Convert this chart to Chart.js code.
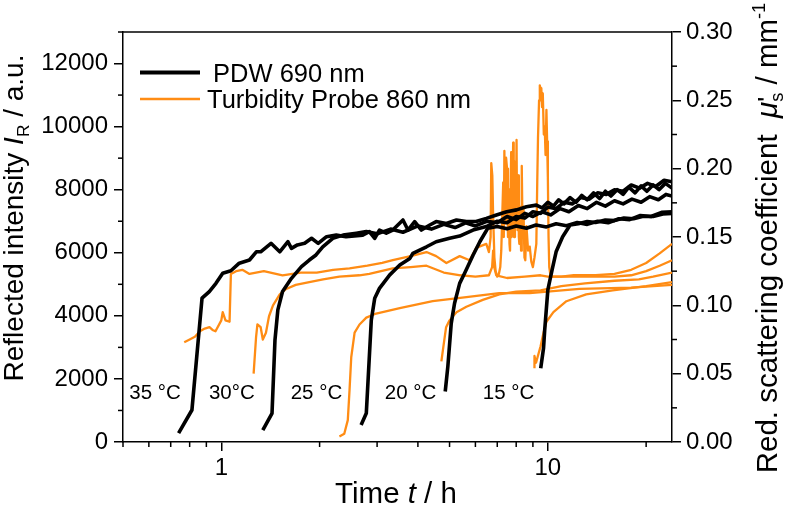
<!DOCTYPE html>
<html>
<head>
<meta charset="utf-8">
<script src="https://cdn.jsdelivr.net/npm/chart.js@4/dist/chart.umd.min.js"></script>
<style>html,body{margin:0;padding:0;background:#fff}canvas{display:block}</style>
</head>
<body>
<canvas id="c" width="788" height="515"></canvas>
<script>
// ---------- tick labels ----------
const xMajorTicks = [1, 10];
const xMinorTicks = [0.5, 0.6, 0.7, 0.8, 0.9, 2, 3, 4, 5, 6, 7, 8, 9, 20];
const leftTicks = [0, 2000, 4000, 6000, 8000, 10000, 12000];
const leftMinorTicks = [1000, 3000, 5000, 7000, 9000, 11000, 13000];
const rightTicks = [0, 0.05, 0.10, 0.15, 0.20, 0.25, 0.30];
const rightMinorTicks = [0.025, 0.075, 0.125, 0.175, 0.225, 0.275];

// ---------- PDW 690 nm : reflected intensity (a.u.) ----------
const pdw35T = [0.74,0.813,0.873,0.919,0.963,1.01,1.07,1.135,1.22,1.28,1.32,1.42,1.51,1.60,1.64,1.71,1.80,1.89,1.98,2.10,2.25,2.41,2.71,2.84,2.95,3.05,3.20,3.35,3.60,3.73,3.91,4.10,4.35,4.55,4.89,5.25,5.63,6.03,6.48,6.96,7.48,8.02,8.6,9.22,9.6,10,10.4,10.8,11.2,11.7,12.2,12.7,13.2,13.8,14.4,15,15.6,16.3,17,17.7,18.5,19.3,20.1,21,21.9,22.9,24];
const pdw35I = [280,1015,4560,4770,5030,5350,5430,5670,5770,6030,6030,6300,6030,6350,6140,6250,6300,6460,6300,6510,6560,6510,6560,6670,6460,6720,6620,6720,7040,6720,6990,6720,6880,6990,6930,7040,6990,6990,7090,7200,7300,7360,7460,7510,7420,7600,7480,7680,7550,7750,7600,7820,7680,7900,7720,7950,7800,8000,7850,8080,7900,8120,7950,8150,8000,8200,8050];

const pdw30T = [1.34,1.43,1.46,1.49,1.54,1.64,1.76,1.86,1.95,2.045,2.195,2.36,2.59,2.78,3.0,3.3,3.6,4.0,4.4,4.8,5.2,5.6,6.0,6.5,7.0,7.5,8.0,8.5,9.0,9.6,10.2,10.9,11.6,12.4,13.2,14.1,15,16,17,18.1,19.3,20.5,21.8,23,24];
const pdw30I = [380,910,3230,4190,4770,5190,5560,5770,5930,6190,6460,6560,6620,6670,6600,6750,6650,6850,6750,6900,6800,6950,6850,7000,6950,7150,7050,7250,7150,7300,7200,7400,7300,7500,7400,7600,7480,7650,7550,7700,7600,7780,7680,7850,7800];

const pdw25T = [2.68,2.78,2.88,2.95,3.05,3.28,3.52,3.78,3.86,4.25,4.55,5.0,5.37,5.9,6.48,7.0,7.5,8.0,8.5,9.0,9.5,10,10.6,11.2,11.9,12.6,13.4,14.2,15.1,16,17,18,19.1,20.2,21.4,22.7,24];
const pdw25I = [540,910,3870,4560,4870,5300,5610,5820,5980,6190,6350,6460,6530,6720,6830,7000,6950,7150,7100,7300,7250,7450,7400,7600,7550,7750,7700,7900,7850,8000,7950,8150,8050,8200,8100,8300,8250];

const pdw20T = [4.85,4.94,5.06,5.18,5.37,5.56,5.9,6.19,6.55,7.0,7.5,8.0,8.6,9.2,9.9,10.6,11.4,12.3,13.2,14.2,15.3,16.5,17.8,19.2,20.7,22.3,24];
const pdw20I = [1600,2390,3760,4400,5030,5350,5920,6350,6780,6830,6760,6850,6780,6880,6820,6920,6860,6960,6900,7000,6950,7080,7050,7180,7150,7280,7300];

const pdw15T = [9.51,9.7,9.78,10.0,10.3,10.6,11.1,11.7,12.4,13.2,14.0,15,16,17.1,18.3,19.6,21,22.5,24];
const pdw15I = [2340,2970,3550,4820,5450,6030,6510,6880,6920,6990,6960,7040,7020,7100,7080,7160,7150,7230,7250];

// ---------- Turbidity probe 860 nm : reduced scattering coefficient (1/mm) ----------
const turb35T = [0.77,0.80,0.83,0.86,0.89,0.92,0.94,0.96,1.00,1.01,1.03,1.06,1.07,1.11,1.16,1.22,1.35,1.54,1.75,1.96,2.2,2.47,2.8,3.11,3.35,3.8,4.25,4.55,4.89,5.37,5.76,6.03,6.48,
  6.6,6.68,6.71,6.76,6.8,6.86,6.92,7.0,7.08,7.15,7.2,7.25,7.3,7.33,7.36,7.4,7.43,7.45,7.5,7.55,7.6,7.63,7.66,7.72,7.75,7.78,7.83,7.86,7.88,7.93,7.98,8.02,8.05,8.08,8.12,8.15,8.18,8.22,8.28,8.32,8.37,8.42,8.48,8.53,8.6,8.7,8.8,8.9,9.0,9.1,9.22,9.28,9.33,9.4,9.45,9.5,9.55,9.6,9.65,9.72,9.78,9.84,9.9,9.95,10.0,10.05,10.1,10.2,
  11,12,14,16,18,20,22,24];
const turb35M = [0.073,0.075,0.077,0.081,0.083,0.084,0.082,0.081,0.089,0.095,0.089,0.088,0.123,0.125,0.126,0.123,0.125,0.122,0.124,0.124,0.126,0.127,0.129,0.131,0.133,0.136,0.139,0.136,0.131,0.136,0.133,0.142,0.145,
  0.139,0.150,0.204,0.195,0.165,0.135,0.125,0.121,0.123,0.128,0.140,0.165,0.190,0.150,0.213,0.160,0.195,0.208,0.200,0.150,0.185,0.145,0.140,0.212,0.150,0.160,0.219,0.170,0.150,0.205,0.165,0.221,0.160,0.155,0.195,0.150,0.145,0.172,0.140,0.202,0.150,0.172,0.135,0.133,0.158,0.140,0.143,0.132,0.128,0.135,0.145,0.190,0.223,0.250,0.261,0.257,0.259,0.245,0.255,0.225,0.231,0.210,0.243,0.220,0.194,0.150,0.128,0.121,
  0.121,0.122,0.122,0.123,0.126,0.131,0.138,0.145];

const turb30T = [1.256,1.278,1.29,1.32,1.34,1.37,1.40,1.44,1.51,1.58,1.69,1.86,2.05,2.3,2.65,2.84,3.35,3.8,4.25,4.8,5.4,6.0,6.6,6.75,6.8,6.85,6.95,7.5,8.5,9.5,10,12,14,16,18,20,22,24];
const turb30M = [0.050,0.077,0.086,0.084,0.075,0.080,0.092,0.100,0.108,0.112,0.115,0.117,0.119,0.121,0.122,0.123,0.127,0.128,0.129,0.124,0.122,0.121,0.122,0.128,0.140,0.128,0.122,0.120,0.121,0.122,0.121,0.121,0.121,0.121,0.122,0.125,0.129,0.133];

const turb25T = [2.30,2.38,2.44,2.47,2.50,2.56,2.65,2.78,2.98,3.52,4.44,5.63,7.1,8.8,12.5,18,24];
const turb25M = [0.004,0.006,0.016,0.038,0.062,0.080,0.086,0.091,0.094,0.098,0.103,0.106,0.109,0.109,0.112,0.113,0.115];

const turb20T = [4.72,4.77,4.88,5.0,5.25,5.63,6.32,7.1,8.0,9.5,11,13,16,19,21,24];
const turb20M = [0.059,0.067,0.084,0.089,0.095,0.099,0.104,0.108,0.110,0.111,0.114,0.116,0.118,0.119,0.121,0.124];

const turb15T = [9.1,9.1,9.2,9.3,9.5,9.7,9.9,10.4,11.4,13.1,15.8,20,24];
const turb15M = [0.054,0.063,0.058,0.062,0.070,0.080,0.088,0.095,0.103,0.108,0.111,0.114,0.117];

// ---------- temperature labels ----------
const tempLabels = ['35 °C', '30°C', '25 °C', '20 °C', '15 °C'];
const tempLabelT = [0.627, 1.077, 1.956, 3.80, 7.58];
const tempLabelI = [1550, 1550, 1550, 1550, 1550];

// ---------- styles ----------
const FONT = "'Liberation Sans', Arial, Helvetica, sans-serif";
const BLACK = '#000000';
const ORANGE = '#ff8c14';

const zip = (t, v) => t.map((x, i) => ({ x: x, y: v[i] }));

function pdw(t, v) {
  return { data: zip(t, v), yAxisID: 'yL', borderColor: BLACK, borderWidth: 3.6, pointRadius: 0, tension: 0, borderJoinStyle: 'round', order: 0 };
}
function turb(t, v) {
  return { data: zip(t, v), yAxisID: 'yR', borderColor: ORANGE, borderWidth: 2.3, pointRadius: 0, tension: 0, borderJoinStyle: 'round', order: 1 };
}

// rich text helper
function rich(ctx, parts, size, x0, y0, draw) {
  let x = x0, prevStart = x0;
  for (const p of parts) {
    const fs = size * (p.scale || 1);
    ctx.font = (p.italic ? 'italic ' : '') + fs + 'px ' + FONT;
    const w = ctx.measureText(p.t).width;
    const sx = p.overlap ? prevStart : x;
    if (draw) ctx.fillText(p.t, sx, y0 + (p.dy || 0) * size);
    if (p.overlap) { x = Math.max(x, sx + w); }
    else { prevStart = sx; x = sx + w; }
  }
  return x - x0;
}
function drawRichCentered(ctx, parts, size, cx, cy, rot) {
  ctx.save();
  ctx.translate(cx, cy);
  if (rot) ctx.rotate(rot);
  ctx.textBaseline = 'alphabetic';
  ctx.textAlign = 'left';
  ctx.fillStyle = '#000';
  const w = rich(ctx, parts, size, 0, 0, false);
  rich(ctx, parts, size, -w / 2, 0, true);
  ctx.restore();
}

const leftTitle = [{ t: 'Reflected intensity ' }, { t: 'I', italic: true }, { t: 'R', scale: 0.62, dy: 0.22 }, { t: ' / a.u.' }];
const rightTitle = [{ t: 'Red. scattering coefficient  ' }, { t: 'μ', italic: true }, { t: 's', scale: 0.62, dy: 0.22 }, { t: '\'', scale: 0.9, dy: -0.05, overlap: true }, { t: ' / mm' }, { t: '-1', scale: 0.62, dy: -0.42 }];
const xTitle = [{ t: 'Time ' }, { t: 't', italic: true }, { t: ' / h' }];

const decor = {
  id: 'decor',
  afterDraw(chart) {
    const { ctx, chartArea: a, scales } = chart;
    ctx.save();
    ctx.strokeStyle = '#000';
    ctx.lineWidth = 1.5;
    const line = (x1, y1, x2, y2) => { ctx.beginPath(); ctx.moveTo(x1, y1); ctx.lineTo(x2, y2); ctx.stroke(); };
    // top frame
    line(a.left, a.top, a.right, a.top);
    // minor ticks
    xMinorTicks.forEach(v => { const p = scales.x.getPixelForValue(v); line(p, a.bottom, p, a.bottom + 5); });
    leftMinorTicks.forEach(v => { const p = scales.yL.getPixelForValue(v); line(a.left - 5, p, a.left, p); });
    rightMinorTicks.forEach(v => { const p = scales.yR.getPixelForValue(v); line(a.right, p, a.right + 5, p); });

    // temperature labels
    ctx.fillStyle = '#000';
    ctx.font = '20.5px ' + FONT;
    ctx.textAlign = 'center';
    ctx.textBaseline = 'middle';
    tempLabels.forEach((s, i) => {
      ctx.fillText(s, scales.x.getPixelForValue(tempLabelT[i]), scales.yL.getPixelForValue(tempLabelI[i]));
    });

    // legend
    const lx = a.left + 17, lw = 60;
    ctx.lineCap = 'butt';
    ctx.strokeStyle = BLACK; ctx.lineWidth = 4;
    line(lx, 72.5, lx + lw, 72.5);
    ctx.strokeStyle = ORANGE; ctx.lineWidth = 2.5;
    line(lx, 99, lx + lw, 99);
    ctx.font = '25.5px ' + FONT;
    ctx.textAlign = 'left';
    ctx.textBaseline = 'alphabetic';
    ctx.fillText(' PDW 690 nm', lx + lw + 6, 82);
    ctx.fillText('Turbidity Probe 860 nm', lx + lw + 7, 108);

    // axis titles
    drawRichCentered(ctx, leftTitle, 28, 23, 218, -Math.PI / 2);
    drawRichCentered(ctx, rightTitle, 29.5, 777, 238, -Math.PI / 2);
    drawRichCentered(ctx, xTitle, 29.5, 396, 503, 0);
    ctx.restore();
  }
};

const tickFont = { family: FONT, size: 24 };
const axisGrid = { display: true, drawOnChartArea: false, drawTicks: true, tickLength: 9, color: '#000', lineWidth: 1.5 };
const axisBorder = { display: true, color: '#000', width: 1.5 };

new Chart(document.getElementById('c'), {
  type: 'line',
  data: {
    datasets: [
      pdw(pdw35T, pdw35I), pdw(pdw30T, pdw30I), pdw(pdw25T, pdw25I), pdw(pdw20T, pdw20I), pdw(pdw15T, pdw15I),
      turb(turb35T, turb35M), turb(turb30T, turb30M), turb(turb25T, turb25M), turb(turb20T, turb20M), turb(turb15T, turb15M)
    ]
  },
  options: {
    responsive: false,
    animation: false,
    devicePixelRatio: 1,
    layout: { padding: { top: 32, left: 0, right: 0, bottom: 0 } },
    plugins: { legend: { display: false }, tooltip: { enabled: false } },
    scales: {
      x: {
        type: 'logarithmic', position: 'bottom', min: 0.5, max: 24,
        afterBuildTicks: s => { s.ticks = xMajorTicks.map(v => ({ value: v })); },
        afterFit: s => { s.height = 73; },
        ticks: { font: tickFont, color: '#000', padding: 3, maxRotation: 0, autoSkip: false, callback: v => String(v) },
        grid: axisGrid, border: axisBorder
      },
      yL: {
        type: 'linear', position: 'left', min: 0, max: 13000,
        afterBuildTicks: s => { s.ticks = leftTicks.map(v => ({ value: v })); },
        afterFit: s => { s.width = 123; },
        ticks: { font: tickFont, color: '#000', padding: 6, callback: v => String(v) },
        grid: axisGrid, border: axisBorder
      },
      yR: {
        type: 'linear', position: 'right', min: 0, max: 0.3,
        afterBuildTicks: s => { s.ticks = rightTicks.map(v => ({ value: v })); },
        afterFit: s => { s.width = 116; },
        ticks: { font: tickFont, color: '#000', padding: 5, callback: v => Number(v).toFixed(2) },
        grid: axisGrid, border: axisBorder
      }
    }
  },
  plugins: [decor]
});
</script>
</body>
</html>
